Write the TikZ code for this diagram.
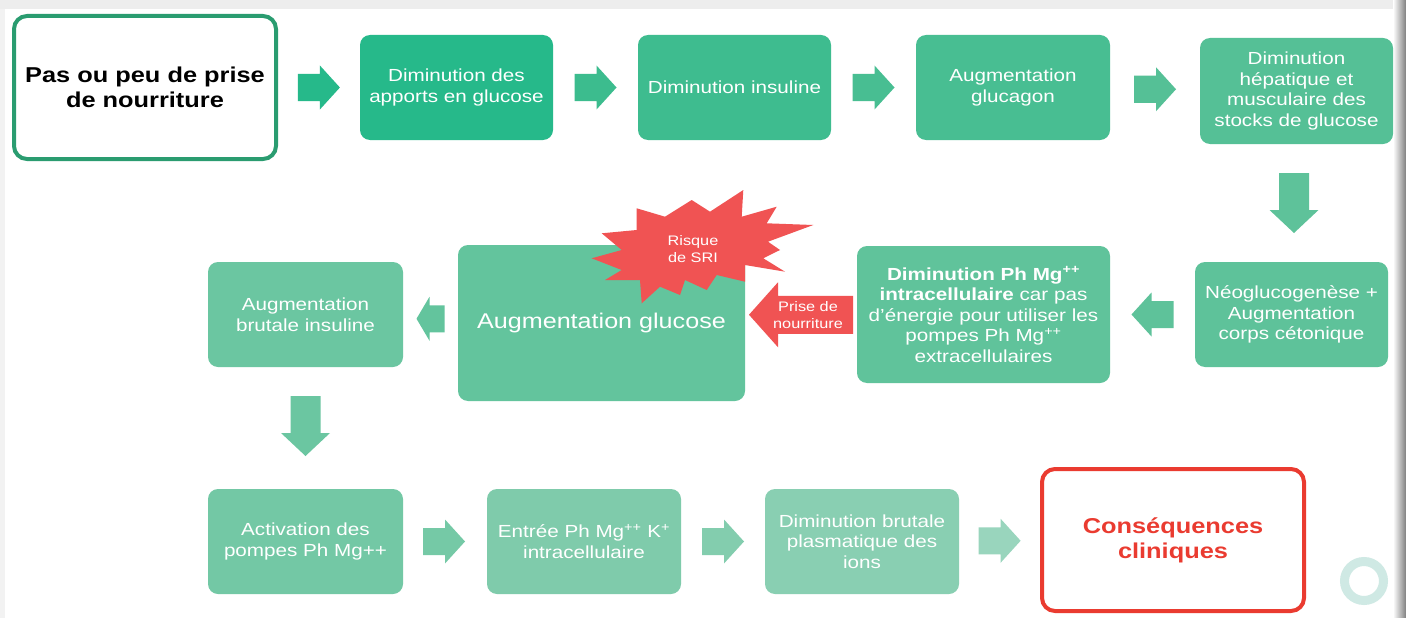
\documentclass[tikz,border=0pt]{standalone}
\usepackage{fontspec}
\setmainfont{Liberation Sans}[FakeStretch=1.18]
\usetikzlibrary{calc}
\definecolor{bordA}{HTML}{2A9C70}
\definecolor{cB}{HTML}{26B98A}
\definecolor{cC}{HTML}{3EBC8F}
\definecolor{cD}{HTML}{48BE92}
\definecolor{cE}{HTML}{55C096}
\definecolor{cF}{HTML}{5EC29A}
\definecolor{cG}{HTML}{60C39B}
\definecolor{cH}{HTML}{63C49D}
\definecolor{cI}{HTML}{6BC6A1}
\definecolor{cJ}{HTML}{73C8A5}
\definecolor{cK}{HTML}{7FCBAB}
\definecolor{cL}{HTML}{89CFB2}
\definecolor{cM}{HTML}{99D5BD}
\definecolor{redA}{HTML}{EA3B30}
\definecolor{redB}{HTML}{F05353}
\definecolor{ringc}{HTML}{CFE9E4}
\begin{document}
\begin{tikzpicture}[x=1pt,y=-1pt,
  box/.style={rounded corners=10pt, inner sep=0pt, text=white, align=center,
    font=\fontsize{17.5}{20.5}\selectfont},
  bigbox/.style={box, line width=4pt, fill=white, rounded corners=13pt,
    font=\bfseries\fontsize{21.5}{25}\selectfont},
  harrow/.pic={\fill[pic actions] (-21,-13.5) -- (1,-13.5) -- (1,-22) -- (21,0) -- (1,22) -- (1,13.5) -- (-21,13.5) -- cycle;},
  sharrow/.pic={\fill[pic actions] (-14,-13.5) -- (1,-13.5) -- (1,-22) -- (14,0) -- (1,22) -- (1,13.5) -- (-14,13.5) -- cycle;},
  varrow/.pic={\fill[pic actions] (-30,-15) -- (7,-15) -- (7,-24.5) -- (30,0) -- (7,24.5) -- (7,15) -- (-30,15) -- cycle;},
  redarrow/.pic={\fill[pic actions] (-52,0) -- (-23,-32.5) -- (-23,-19) -- (52,-19) -- (52,19) -- (-23,19) -- (-23,32.5) -- cycle;},
  smalltxt/.style={text=white, align=center, inner sep=0pt, font=\fontsize{13.8}{17}\selectfont}
]
\useasboundingbox (0,0) rectangle (1406,618);
% background
\fill[white] (0,0) rectangle (1406,618);
\fill[black!7] (0,0) rectangle (1406,9);
\fill[black!5] (0,9) rectangle (5,618);
\shade[left color=white, right color=black!50] (1393,0) rectangle (1406,618);

% top row
\node[bigbox, draw=bordA, text=black, minimum width=262pt, minimum height=143pt] (n1) at (145,87.5) {Pas ou peu de prise\\de nourriture};
\node[box, fill=cB, minimum width=193pt, minimum height=105pt] (n2) at (456.5,87.5) {Diminution des\\apports en glucose};
\node[box, fill=cC, minimum width=193pt, minimum height=105pt] (n3) at (734.5,87.5) {Diminution insuline};
\node[box, fill=cD, minimum width=194pt, minimum height=105pt] (n4) at (1013,87.5) {Augmentation\\glucagon};
\node[box, fill=cE, minimum width=193pt, minimum height=106pt] (n5) at (1296.5,91) {Diminution\\hépatique et\\musculaire des\\stocks de glucose};

% middle row
\node[box, fill=cF, minimum width=193pt, minimum height=105pt] (n6) at (1291.5,314.5) {Néoglucogenèse +\\Augmentation\\corps cétonique};
\node[box, fill=cG, minimum width=253pt, minimum height=137pt] (n7) at (983.5,314.5) {\textbf{Diminution Ph Mg\textsuperscript{++}}\\\textbf{intracellulaire} car pas\\d’énergie pour utiliser les\\pompes Ph Mg\textsuperscript{++}\\extracellulaires};
\node[box, fill=cH, minimum width=287pt, minimum height=156pt, font=\fontsize{21.3}{25}\selectfont] (n8) at (601.5,323) {Augmentation glucose};
\node[box, fill=cI, minimum width=195pt, minimum height=105pt] (n9) at (305.5,314.5) {Augmentation\\brutale insuline};

% bottom row
\node[box, fill=cJ, minimum width=195pt, minimum height=105pt] (n10) at (305.5,541.5) {Activation des\\pompes Ph Mg++};
\node[box, fill=cK, minimum width=194pt, minimum height=105pt] (n11) at (584,541.5) {Entrée Ph Mg\textsuperscript{++} K\textsuperscript{+}\\intracellulaire};
\node[box, fill=cL, minimum width=194pt, minimum height=105pt] (n12) at (862,541.5) {Diminution brutale\\plasmatique des\\ions};
\node[bigbox, draw=redA, text=redA, minimum width=262pt, minimum height=142pt] (n13) at (1173,540) {Conséquences\\cliniques};

% block arrows
\pic[fill=cB] at ($(n1.east)!0.5!(n2.west)$) {harrow};
\pic[fill=cC!90!cB] at ($(n2.east)!0.5!(n3.west)$) {harrow};
\pic[fill=cD] at ($(n3.east)!0.5!(n4.west)$) {harrow};
\pic[fill=cE] at ($(n4.east)!0.5!(n5.west)$) {harrow};
\pic[fill=cF, rotate=-90] at ($(n5.south)!0.5!(n6.north)$) {varrow};
\pic[fill=cF, rotate=180] at ($(n6.west)!0.5!(n7.east)$) {harrow};
\pic[fill=redB] at ($(n7.west)!0.5!(n8.east)+(0,-4)$) {redarrow};
\node[smalltxt] (prise) at ($(n7.west)!0.5!(n8.east)+(7,-4)$) {Prise de\\nourriture};
\pic[fill=cH, rotate=180] at ($(n8.west)!0.5!(n9.east)$) {sharrow};
\pic[fill=cI, rotate=-90] at ($(n9.south)!0.5!(n10.north)+(0,-2)$) {varrow};
\pic[fill=cJ!80!cK] at ($(n10.east)!0.5!(n11.west)+(-1,0)$) {harrow};
\pic[fill=cK!60!cL] at ($(n11.east)!0.5!(n12.west)$) {harrow};
\pic[fill=cM] at ($(n12.east)!0.5!(n13.west)$) {harrow};

% starburst
\fill[redB] (743.3,190) -- (741.7,216.7) -- (776.7,206.7) -- (766.7,223.3) -- (813.3,225)
  -- (768,241.7) -- (780,250) -- (763.3,258.3) -- (785,271.7) -- (745,265) -- (745,281.7)
  -- (716.7,275) -- (706.7,290) -- (685,280) -- (680,295) -- (660,286.7) -- (641.7,303.3)
  -- (640,280) -- (605,280) -- (621.7,270) -- (591.7,258.3) -- (621.7,250) -- (601.7,233.3)
  -- (636.7,230) -- (636.7,208.3) -- (665,216.7) -- (691.7,200) -- (710,211.7) -- cycle;
\node[smalltxt] (sri) at (693,249) {Risque\\de SRI};

% ring
\draw[ringc, line width=9pt] (1364,581) circle (19.5);
\end{tikzpicture}
\end{document}
